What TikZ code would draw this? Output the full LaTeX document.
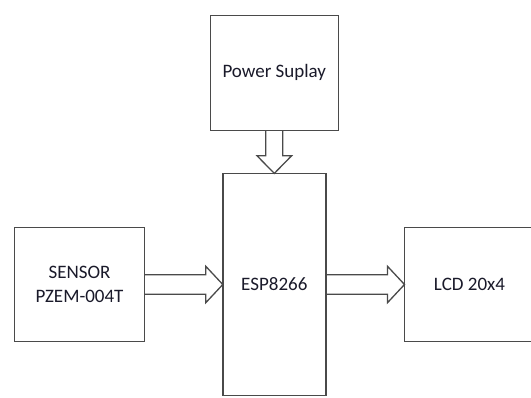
\documentclass[tikz,border=0pt]{standalone}
\usepackage{fontspec}
\setmainfont{Carlito}
\usetikzlibrary{calc}
\definecolor{linegray}{HTML}{4A4A4A}
\definecolor{txt}{HTML}{1A1A2A}
\begin{document}
\begin{tikzpicture}[x=1pt,y=1pt,
  box/.style={draw=linegray, line width=1.4pt, inner sep=0pt, outer sep=0pt,
    font=\fontsize{19}{23.4}\selectfont, text=txt, align=center},
  blockarrow/.style={draw=linegray, line width=1.3pt, line join=miter}]
\clip (0,0) rectangle (531,-397);
\fill[white] (0,0) rectangle (531,-397);
\node[box, minimum width=128, minimum height=115] (power) at (274.3,-72.7) {Power Suplay};
\node[box, minimum width=103, minimum height=222.2] (esp) at (274.3,-284.5) {ESP8266};
\node[box, minimum width=130, minimum height=114] (sensor) at (79.5,-284.5) {SENSOR\\PZEM-004T};
\node[box, minimum width=130, minimum height=114] (lcd) at (469.5,-284.5) {LCD 20x4};
% power -> esp
\draw[blockarrow] ($(power.south)+(-8.5,0)$) -- ($(esp.north)+(-8.5,17.6)$)
  -- ($(esp.north)+(-17.25,17.6)$) -- (esp.north) -- ($(esp.north)+(17.25,17.6)$)
  -- ($(esp.north)+(8.5,17.6)$) -- ($(power.south)+(8.5,0)$);
% sensor -> esp
\draw[blockarrow] ($(sensor.east)+(0,9.7)$) -- ($(esp.west)+(-17,9.7)$)
  -- ($(esp.west)+(-17,18.2)$) -- (esp.west) -- ($(esp.west)+(-17,-18.2)$)
  -- ($(esp.west)+(-17,-9.7)$) -- ($(sensor.east)+(0,-9.7)$);
% esp -> lcd
\draw[blockarrow] ($(esp.east)+(0,9.7)$) -- ($(lcd.west)+(-17,9.7)$)
  -- ($(lcd.west)+(-17,18.2)$) -- (lcd.west) -- ($(lcd.west)+(-17,-18.2)$)
  -- ($(lcd.west)+(-17,-9.7)$) -- ($(esp.east)+(0,-9.7)$);
\end{tikzpicture}
\end{document}
